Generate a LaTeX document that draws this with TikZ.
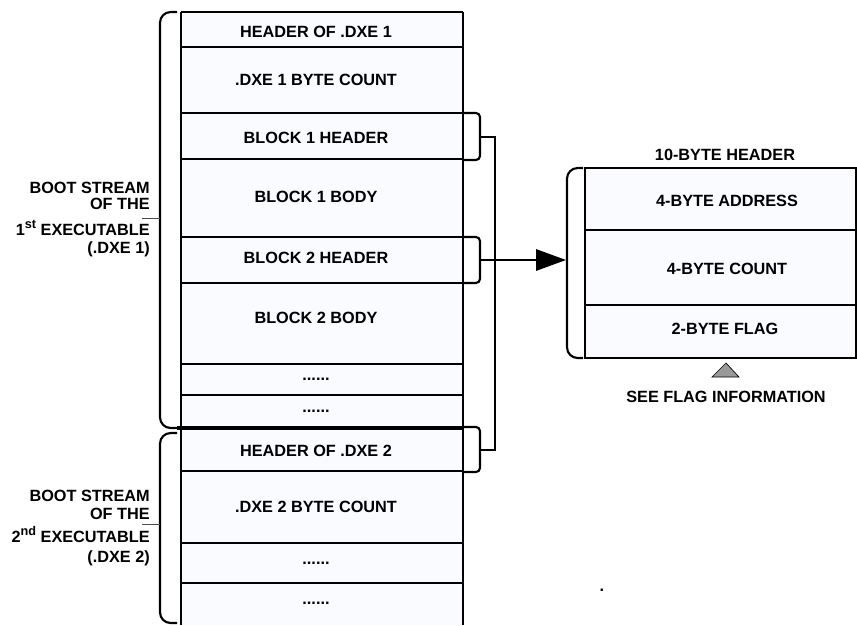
\documentclass[tikz,border=0pt]{standalone}
\usepackage{fontspec}
\setmainfont{Liberation Sans}
\usetikzlibrary{arrows.meta}
\definecolor{cellfill}{RGB}{250,251,255}
\newcommand{\supx}[1]{\raisebox{0.42em}{\fontsize{9.5}{9.5}\selectfont #1}}
\begin{document}
\begin{tikzpicture}[x=0.75pt,y=-0.75pt,
  txt/.style={font=\fontsize{12.2}{14}\selectfont\bfseries, inner sep=0pt, anchor=base},
  lbl/.style={font=\fontsize{12.2}{14}\selectfont\bfseries, inner sep=0pt, anchor=base east},
  sep/.style={line width=1.5pt},
  wall/.style={line width=1.8pt},
  brk/.style={line width=1.6pt, rounded corners=3pt},
  brace/.style={line width=1.6pt, rounded corners=8pt},
  tick/.style={line width=0.7pt, black!70}]
\useasboundingbox (0,0) rectangle (857,625);
% main column
\fill[cellfill] (181,12) rectangle (463,625);
\draw[sep] (181,12) -- (463,12);
\foreach \y in {47,113,159,237,283,364,395,471,543,583} \draw[sep] (181,\y) -- (463,\y);
\draw[line width=3pt] (177,428) -- (463,428);
\draw[wall] (181,12) -- (181,625);
\draw[wall] (463,12) -- (463,625);
% column texts
\node[txt] (h1) at (316,37.3) {HEADER OF .DXE 1};
\node[txt] (c1) at (316,85.7) {.DXE 1 BYTE COUNT};
\node[txt] (b1h) at (316,143.3) {BLOCK 1 HEADER};
\node[txt] (b1b) at (316,202.5) {BLOCK 1 BODY};
\node[txt] (b2h) at (316,263.5) {BLOCK 2 HEADER};
\node[txt] (b2b) at (316,323.5) {BLOCK 2 BODY};
\node[txt] (d1) at (316,380) {......};
\node[txt] (d2) at (316,412) {......};
\node[txt] (h2) at (316,456) {HEADER OF .DXE 2};
\node[txt] (c2) at (316,512.5) {.DXE 2 BYTE COUNT};
\node[txt] (d3) at (316,564.5) {......};
\node[txt] (d4) at (316,604) {......};
% left braces and labels
\draw[brace] (177,12) -- (160,12) -- (160,428) -- (177,428);
\draw[tick] (160,218) -- (142,218);
\draw[brace] (177,433) -- (160,433) -- (160,623) -- (177,623);
\draw[tick] (160,524) -- (142,524);
\node[lbl] (l1a) at (150,193.3) {BOOT STREAM};
\node[lbl] (l1b) at (150,209.3) {OF THE};
\node[lbl] (l1c) at (150,235) {1\supx{st} EXECUTABLE};
\node[lbl] (l1d) at (150,253.3) {(.DXE 1)};
\node[lbl] (l2a) at (150,501.7) {BOOT STREAM};
\node[lbl] (l2b) at (150,519) {OF THE};
\node[lbl] (l2c) at (150,542.7) {2\supx{nd} EXECUTABLE};
\node[lbl] (l2d) at (150,562) {(.DXE 2)};
% right brackets on column
\coordinate (k1) at (480,137);
\coordinate (k2) at (480,260);
\coordinate (k3) at (480,450);
\coordinate (j) at (495,137);
\coordinate (j3) at (495,450);
\draw[brk] (463,113) -- (480,113) -- (480,160) -- (463,160);
\draw[brk] (463,237) -- (480,237) -- (480,283) -- (463,283);
\draw[brk] (463,427) -- (480,427) -- (480,472) -- (463,472);
\draw[line width=1.6pt] (k1) -- (j) -- (j3) -- (k3);
% right box
\fill[cellfill] (585,168) rectangle (856,358);
\draw[sep] (585,168) rectangle (856,358);
\draw[sep] (585,230) -- (856,230);
\draw[sep] (585,305) -- (856,305);
\coordinate (rb) at (566,260);
\draw[brace] (583,168) -- (567,168) -- (567,358) -- (583,358);
\draw[line width=1.6pt, -{Triangle[length=22.5pt,width=16pt]}] (k2) -- (rb);
\node[txt] (hdr) at (725,160) {10-BYTE HEADER};
\node[txt] (addr) at (727,206.7) {4-BYTE ADDRESS};
\node[txt] (cnt) at (727,274) {4-BYTE COUNT};
\node[txt] (flg) at (725,334) {2-BYTE FLAG};
\draw[line width=0.5pt, fill=black!40] (726,363) -- (739,377) -- (712,377) -- cycle;
\node[txt] (see) at (726,402.7) {SEE FLAG INFORMATION};
\node[txt] (dot) at (602,591) {.};
\end{tikzpicture}
\end{document}
